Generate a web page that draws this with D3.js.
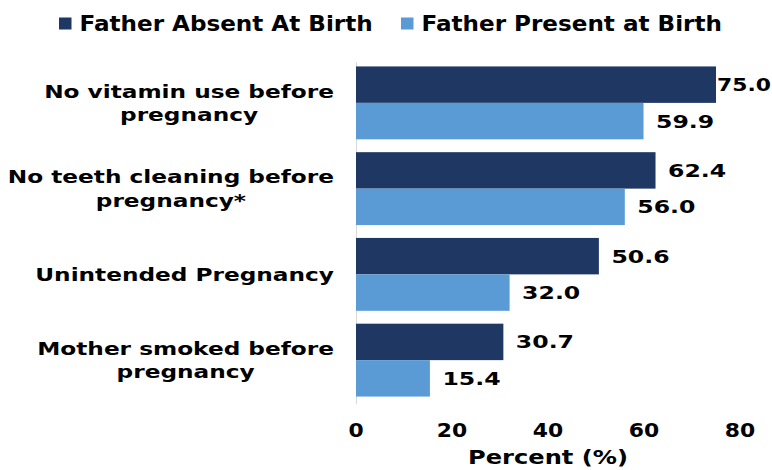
<!DOCTYPE html>
<html><head><meta charset="utf-8">
<script src="https://cdn.jsdelivr.net/npm/d3@7"></script>
<style>body{margin:0;background:#fff}svg{display:block;font-family:"DejaVu Sans",Verdana,sans-serif;font-weight:bold}</style>
</head><body><svg id="c" width="772" height="470"></svg>
<script>
const categories = [["No vitamin use before","pregnancy"],["No teeth cleaning before","pregnancy*"],["Unintended Pregnancy"],["Mother smoked before","pregnancy"]];
const seriesNames = ["Father Absent At Birth","Father Present at Birth"];
const absent = [75.0, 62.4, 50.6, 30.7];
const present = [59.9, 56.0, 32.0, 15.4];
const ticks = [0,20,40,60,80];
const colors = ["#1f3763","#5b9bd5"];

const svg = d3.select("#c");
const W = 772;
const x = d3.scaleLinear().domain([0,80]).range([356,740]);
const y = d3.scaleBand().domain(d3.range(categories.length)).range([60,403]).paddingInner(0.15).paddingOuter(0.075);
const sub = d3.scaleBand().domain([0,1]).range([0,y.bandwidth()]);
const series = [absent, present];

// stretched text helper: places text at (tx,ty) with horizontal scale sx
function stext(parent, str, size, sx, anchor){
  const t = parent.append("text").attr("font-size",size).attr("fill","#000").attr("text-anchor",anchor||"start").text(str);
  t.place = function(tx,ty,s){ t.attr("transform",`translate(${tx},${ty}) scale(${s||sx},1)`); return t; };
  t.len = function(){ return t.node().getComputedTextLength(); };
  return t;
}

// axis line
svg.append("line").attr("x1",x(0)+0.5).attr("x2",x(0)+0.5).attr("y1",62).attr("y2",404).attr("stroke","#d9d9d9").attr("stroke-width",1);

const VS = 1.31;
series.forEach((vals,si)=>{
  svg.append("g").selectAll("rect").data(vals).join("rect")
    .attr("x",x(0)).attr("y",(d,i)=>y(i)+sub(si)).attr("width",d=>x(d)-x(0)).attr("height",sub.bandwidth())
    .attr("fill",colors[si]);
  const g = svg.append("g");
  vals.forEach((d,i)=>{
    const t = stext(g, d.toFixed(1), 18, VS);
    const len = t.len();
    let tx = x(d) + 12.5, s = VS;
    if (tx + len*s > W - 1) { tx = Math.max(x(d) + 1, W - 1 - len*s); if (tx + len*s > W - 1) s = (W - 1 - tx)/len; }
    t.place(tx, y(i)+sub(si)+sub.bandwidth()/2 + 6.5, s);
  });
});

// category labels
const LS = 1.29;
categories.forEach((lines,i)=>{
  const g = svg.append("g");
  const ts = lines.map(l=>stext(g, l, 18, LS, "middle"));
  const mw = d3.max(ts, t=>t.len()*LS);
  const cx = 334 - mw/2;
  const cy = y(i)+y.bandwidth()/2;
  const lh = 23.5;
  ts.forEach((t,j)=>t.place(cx, cy + (j-(lines.length-1)/2)*lh + 6.5));
});

// x axis
const ax = svg.append("g").call(d3.axisBottom(x).tickValues(ticks).tickSize(0).tickPadding(0));
ax.select(".domain").remove();
ax.selectAll(".tick").attr("transform", d=>`translate(${x(d)},437) scale(1.15,1)`);
ax.selectAll("text").attr("font-size",19).attr("font-family","DejaVu Sans, sans-serif").attr("font-weight","bold").attr("fill","#000").attr("dy",0).attr("y",0);
stext(svg, "Percent (%)", 19, 1.27, "middle").place((x(0)+x(80))/2, 464);

// legend
const leg = svg.append("g");
const legX = [59, 401];
seriesNames.forEach((n,i)=>{
  leg.append("rect").attr("x",legX[i]).attr("y",17.5).attr("width",12.5).attr("height",12).attr("fill",colors[i]);
  stext(leg, n, 21, 1.1).place(legX[i]+20.5, 30.5);
});
</script></body></html>
